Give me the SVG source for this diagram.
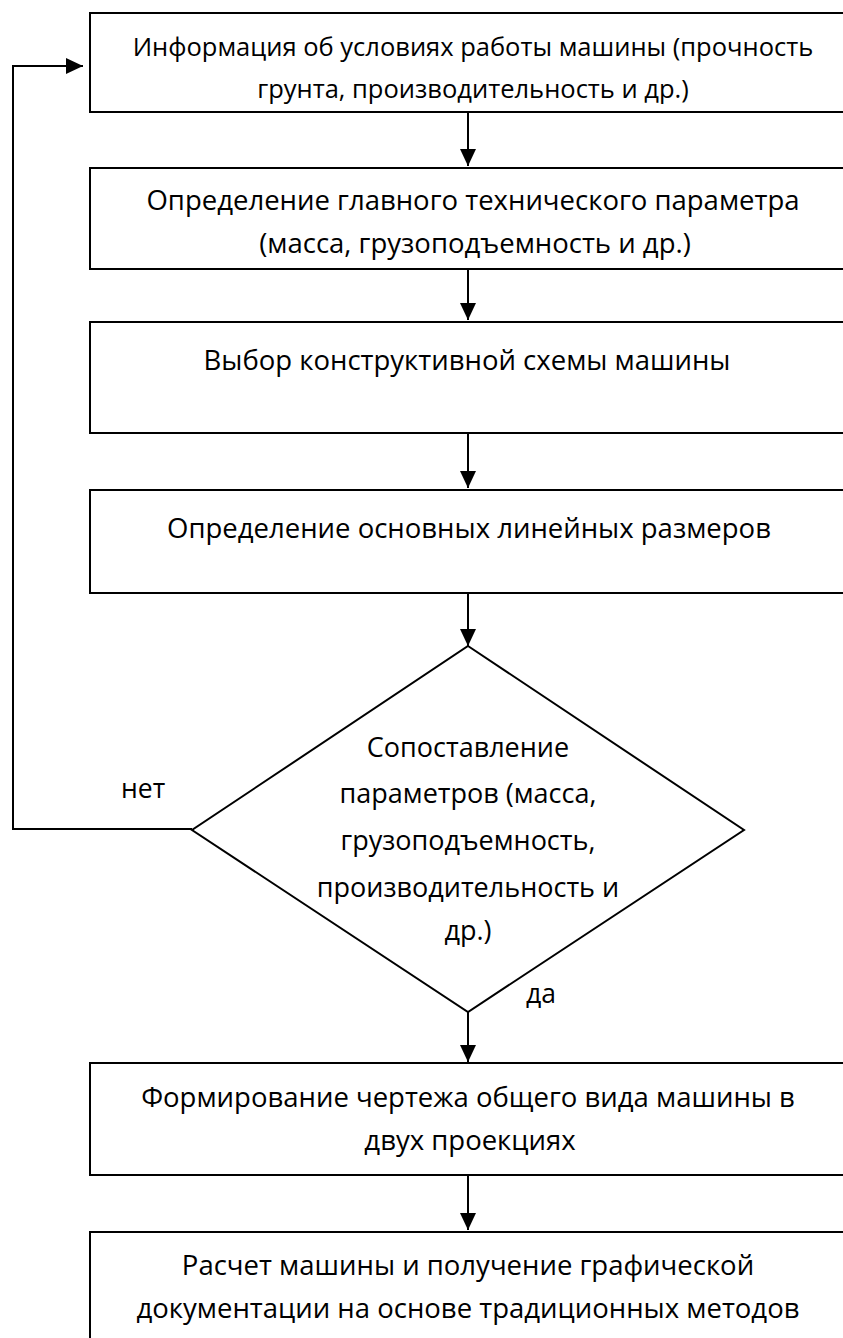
<svg xmlns="http://www.w3.org/2000/svg" width="843" height="1338" viewBox="0 0 843 1338">
<style>
.box{fill:#fff;stroke:#000;stroke-width:2}
.t{font-family:"Open Sans","Noto Sans",sans-serif;font-size:27.5px;fill:#000;text-anchor:middle}
.s{font-size:25.5px}
.d{font-size:27px}
.l{font-family:"Open Sans","Noto Sans",sans-serif;font-size:26.5px;fill:#000}
.c{fill:none;stroke:#000;stroke-width:2}
</style>
<defs>
<marker id="ah" markerUnits="userSpaceOnUse" markerWidth="17" markerHeight="16" refX="17" refY="8" orient="auto">
<path d="M0,0 L17,8 L0,16 z" fill="#000"/>
</marker>
</defs>
<rect width="843" height="1338" fill="#fff"/>
<g id="n1"><rect class="box" x="90" y="13" width="780" height="99"/>
<text class="t s" x="473" y="56">Информация об условиях работы машины (прочность</text>
<text class="t s" x="473" y="98">грунта, производительность и др.)</text></g>
<g id="n2"><rect class="box" x="90" y="168" width="780" height="101"/>
<text class="t" x="473" y="210">Определение главного технического параметра</text>
<text class="t" x="475" y="253">(масса, грузоподъемность и др.)</text></g>
<g id="n3"><rect class="box" x="90" y="322" width="780" height="111"/>
<text class="t" x="467" y="370">Выбор конструктивной схемы машины</text></g>
<g id="n4"><rect class="box" x="90" y="490" width="780" height="103"/>
<text class="t" x="469" y="538">Определение основных линейных размеров</text></g>
<g id="n5"><polygon class="box" points="468,646 744,830 468,1012 192,830"/>
<text class="t d" x="468" y="757">Сопоставление</text>
<text class="t d" x="468" y="803">параметров (масса,</text>
<text class="t d" x="468" y="850">грузоподъемность,</text>
<text class="t d" x="468" y="897">производительность и</text>
<text class="t d" x="468" y="940">др.)</text></g>
<g id="n6"><rect class="box" x="90" y="1063" width="780" height="112"/>
<text class="t" x="468" y="1107">Формирование чертежа общего вида машины в</text>
<text class="t" x="470" y="1150">двух проекциях</text></g>
<g id="n7"><rect class="box" x="90" y="1232" width="780" height="120"/>
<text class="t" x="468" y="1275">Расчет машины и получение графической</text>
<text class="t" x="468" y="1318">документации на основе традиционных методов</text></g>
<g id="connectors">
<line class="c" x1="468" y1="112" x2="468" y2="166" marker-end="url(#ah)"/>
<line class="c" x1="468" y1="269" x2="468" y2="320" marker-end="url(#ah)"/>
<line class="c" x1="468" y1="433" x2="468" y2="488" marker-end="url(#ah)"/>
<line class="c" x1="468" y1="593" x2="468" y2="646" marker-end="url(#ah)"/>
<line class="c" x1="468" y1="1012" x2="468" y2="1062" marker-end="url(#ah)"/>
<line class="c" x1="468" y1="1175" x2="468" y2="1230" marker-end="url(#ah)"/>
<polyline class="c" points="192,829 13,829 13,66 83,66" marker-end="url(#ah)"/>
<text class="l" x="121" y="798">нет</text>
<text class="l" x="526" y="1003">да</text>
</g>
</svg>
